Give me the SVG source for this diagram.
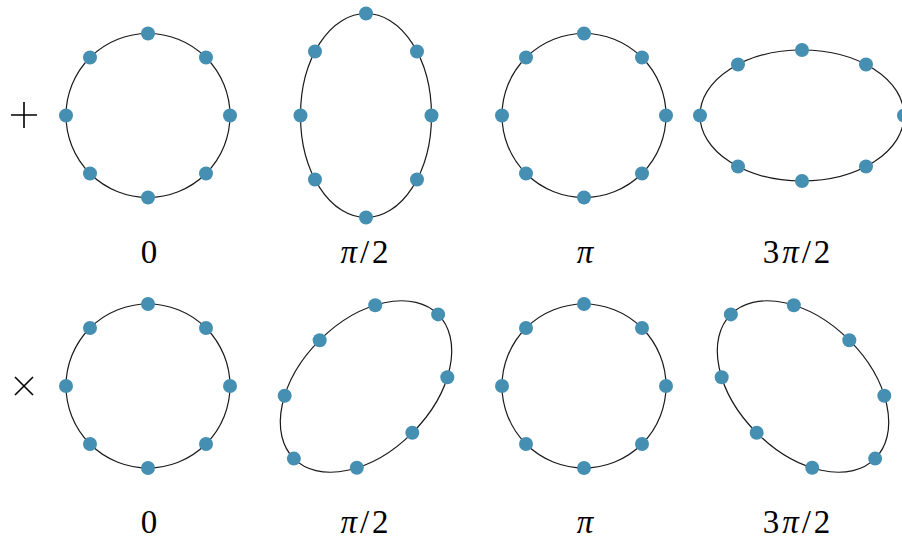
<svg xmlns="http://www.w3.org/2000/svg" xmlns:xlink="http://www.w3.org/1999/xlink" width="902" height="539" viewBox="0 0 902 539">
<style>
.curve{fill:none;stroke:#1a1a1a;stroke-width:1.2}
.dot{fill:#4590b2}
.lbl{font-family:"Liberation Serif","DejaVu Serif",serif;font-size:33px;fill:#000;text-anchor:middle}
.pi{font-style:italic}
.op{stroke:#000;stroke-width:1.6;fill:none}
</style>
<defs>
<g id="circ">
<circle class="curve" cx="0" cy="0" r="82"/>
<circle class="dot" cx="0" cy="-82" r="7"/>
<circle class="dot" cx="58" cy="-58" r="7"/>
<circle class="dot" cx="82" cy="0" r="7"/>
<circle class="dot" cx="58" cy="58" r="7"/>
<circle class="dot" cx="0" cy="82" r="7"/>
<circle class="dot" cx="-58" cy="58" r="7"/>
<circle class="dot" cx="-82" cy="0" r="7"/>
<circle class="dot" cx="-58" cy="-58" r="7"/>
</g>
<g id="ell">
<ellipse class="curve" cx="0" cy="0" rx="65.5" ry="102"/>
<circle class="dot" cx="0" cy="-102" r="7"/>
<circle class="dot" cx="51" cy="-64" r="7"/>
<circle class="dot" cx="65.5" cy="0" r="7"/>
<circle class="dot" cx="51" cy="64" r="7"/>
<circle class="dot" cx="0" cy="102" r="7"/>
<circle class="dot" cx="-51" cy="64" r="7"/>
<circle class="dot" cx="-65.5" cy="0" r="7"/>
<circle class="dot" cx="-51" cy="-64" r="7"/>
</g>
</defs>
<g id="ops">
<path class="op" d="M11,115 H37 M24,102 V128"/>
<path class="op" d="M15,377 L33,395 M33,377 L15,395"/>
</g>
<g id="row1">
<g id="r1c1"><use xlink:href="#circ" transform="translate(148,115.5)"/></g>
<g id="r1c2"><use xlink:href="#ell" transform="translate(366,115.5)"/></g>
<g id="r1c3"><use xlink:href="#circ" transform="translate(584,115.5)"/></g>
<g id="r1c4"><use xlink:href="#ell" transform="translate(802,115.5) rotate(90)"/></g>
</g>
<g id="row2">
<g id="r2c1"><use xlink:href="#circ" transform="translate(148,386)"/></g>
<g id="r2c2"><use xlink:href="#ell" transform="translate(366,386.5) rotate(45)"/></g>
<g id="r2c3"><use xlink:href="#circ" transform="translate(584,386)"/></g>
<g id="r2c4"><use xlink:href="#ell" transform="translate(803,386.5) rotate(-45)"/></g>
</g>
<g id="labels">
<text class="lbl" x="149" y="263">0</text>
<text class="lbl" x="366" y="263" letter-spacing="3"><tspan class="pi">π</tspan>/2</text>
<text class="lbl" x="585" y="263"><tspan class="pi">π</tspan></text>
<text class="lbl" x="798" y="263" letter-spacing="3">3<tspan class="pi">π</tspan>/2</text>
<text class="lbl" x="149" y="533">0</text>
<text class="lbl" x="366" y="533" letter-spacing="3"><tspan class="pi">π</tspan>/2</text>
<text class="lbl" x="585" y="533"><tspan class="pi">π</tspan></text>
<text class="lbl" x="798" y="533" letter-spacing="3">3<tspan class="pi">π</tspan>/2</text>
</g>
</svg>
